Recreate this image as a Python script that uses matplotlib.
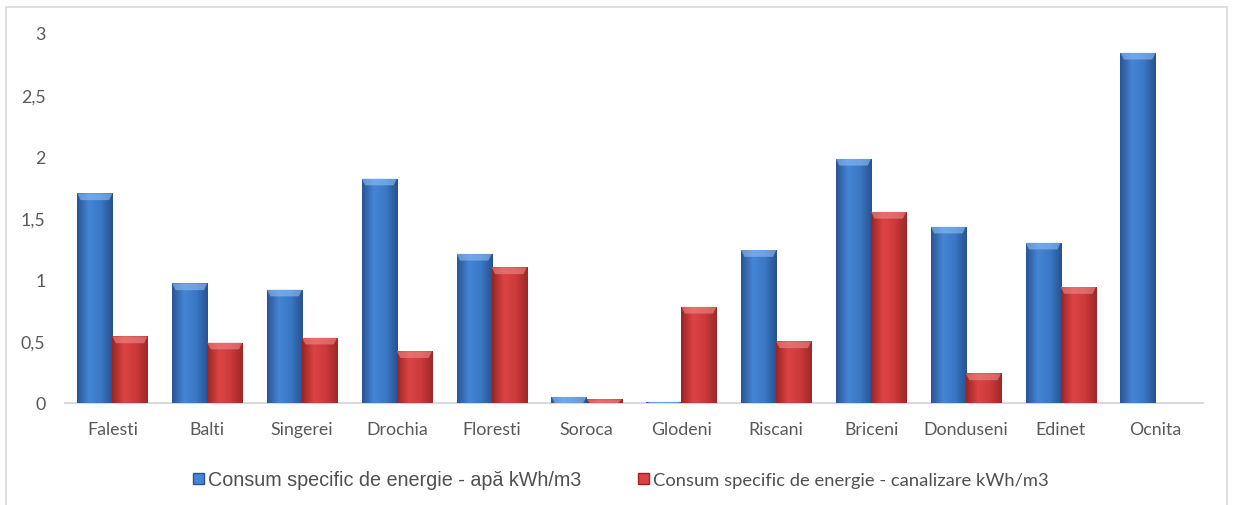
import numpy as np
import matplotlib.pyplot as plt
from matplotlib.patches import Patch, Rectangle
from matplotlib.colors import LinearSegmentedColormap

localitati = ["Falesti", "Balti", "Singerei", "Drochia", "Floresti", "Soroca",
              "Glodeni", "Riscani", "Briceni", "Donduseni", "Edinet", "Ocnita"]
apa = [1.70, 0.97, 0.92, 1.82, 1.21, 0.05, 0.01, 1.24, 1.98, 1.43, 1.30, 2.84]
canalizare = [0.54, 0.49, 0.53, 0.42, 1.10, 0.03, 0.78, 0.50, 1.55, 0.24, 0.94, 0.0]
y_ticks = [0, 0.5, 1, 1.5, 2, 2.5, 3]
y_labels = ["0", "0,5", "1", "1,5", "2", "2,5", "3"]

serii = [
    ("Consum specific de energie - apă kWh/m3", apa,
     ["#2a5595", "#4585d4", "#3a78c6", "#28528f"], "#8fc0f5"),
    ("Consum specific de energie - canalizare kWh/m3", canalizare,
     ["#9a2424", "#dc4444", "#cc3a3a", "#a02828"], "#f08a8a"),
]

fig = plt.figure(figsize=(12.34, 5.06), dpi=100)
ax = fig.add_axes([65 / 1234, 102 / 506, 1138 / 1234, 370 / 506])

x = np.arange(len(localitati))
w = 0.37
grad = np.linspace(0, 1, 64).reshape(1, -1)

for i, (nume, vals, cols, top_col) in enumerate(serii):
    cmap = LinearSegmentedColormap.from_list(nume, cols)
    bars = ax.bar(x + (i - 0.5) * w, vals, w, color=cols[2], edgecolor="none", zorder=2)
    for b in bars:
        x0, h, bw = b.get_x(), b.get_height(), b.get_width()
        if h <= 0:
            continue
        im = ax.imshow(grad, cmap=cmap, extent=[x0, x0 + bw, 0, h],
                       aspect="auto", zorder=3, interpolation="bilinear")
        im.set_clip_path(b)
        # bevel on top of each bar
        bh = min(0.055, h)
        ins = 0.035 * bw / w
        ax.fill([x0, x0 + bw, x0 + bw - ins, x0 + ins],
                [h, h, h - bh, h - bh], color=top_col, alpha=0.6,
                lw=0, zorder=4)

ax.set_xlim(-0.5, len(localitati) - 0.5)
ax.set_ylim(0, 3)
ax.set_xticks(x)
ax.set_xticklabels(localitati)
ax.set_yticks(y_ticks)
ax.set_yticklabels(y_labels)
ax.tick_params(length=0, labelsize=12.8, labelcolor="#595959")
ax.tick_params(axis="x", pad=13)
ax.tick_params(axis="y", pad=14)
for lbl in ax.get_xticklabels() + ax.get_yticklabels():
    lbl.set_family(["Lato", "DejaVu Sans"])
for s in ["top", "right", "left"]:
    ax.spines[s].set_visible(False)
ax.spines["bottom"].set_color("#d9d9d9")
ax.spines["bottom"].set_linewidth(1.5)

handles = [Patch(facecolor=cols[1], edgecolor=cols[0]) for _, _, cols, _ in serii]
leg = fig.legend(handles, [s[0] for s in serii], loc="center", ncol=2,
                 bbox_to_anchor=(621 / 1234, 1 - 481 / 506), frameon=False,
                 fontsize=14.2, columnspacing=2.9, handlelength=0.55, handleheight=0.55,
                 handletextpad=0.2, labelcolor="#505050")
leg.get_texts()[0].set_family(["Liberation Sans", "DejaVu Sans"])
leg.get_texts()[1].set_family(["Lato", "DejaVu Sans"])
leg.get_texts()[1].set_fontsize(13.2)

fig.patches.append(Rectangle((6 / 1234, -0.01), 1221 / 1234, 1 - 8 / 506 + 0.01,
                             transform=fig.transFigure, fill=False,
                             edgecolor="#d9d9d9", lw=1.2))

fig.savefig("out.png", dpi=100)
